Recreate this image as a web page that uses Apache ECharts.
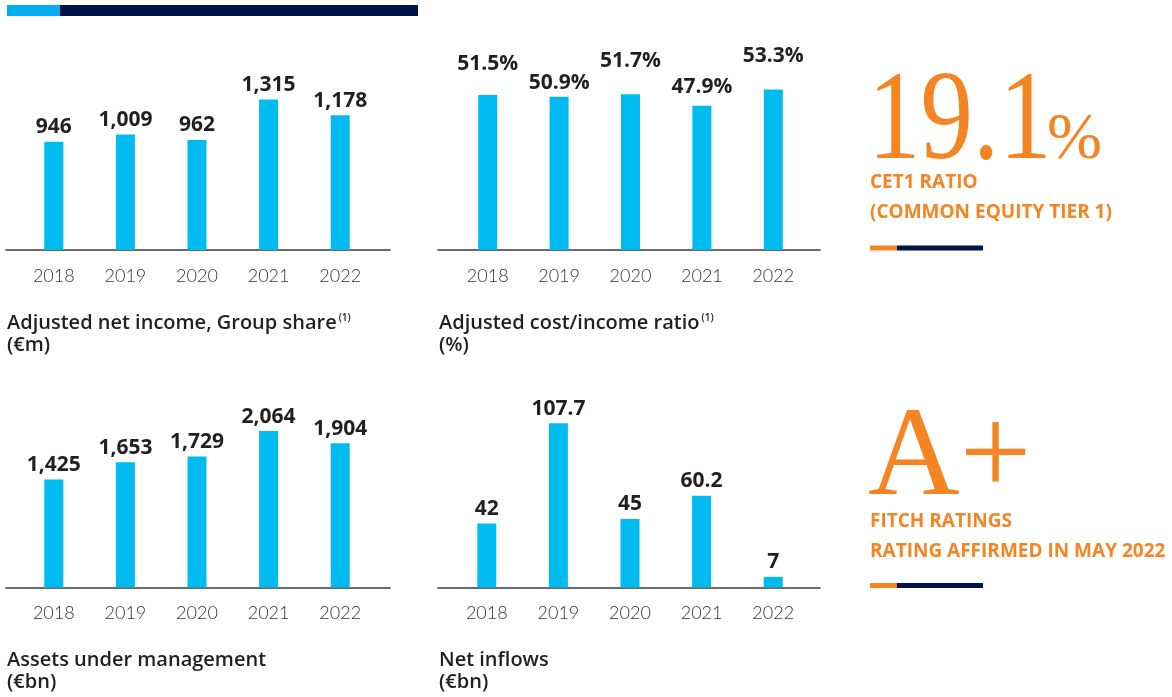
<!DOCTYPE html>
<html>
<head>
<meta charset="utf-8">
<script src="https://cdn.jsdelivr.net/npm/echarts@6/dist/echarts.min.js"></script>
<style>
  html, body { margin: 0; padding: 0; background: #fff; }
  #main { width: 1172px; height: 697px; }
</style>
</head>
<body>
<div id="main"></div>
<script>
// data
var years = ['2018', '2019', '2020', '2021', '2022'];
var netIncome = [946, 1009, 962, 1315, 1178];
var costIncome = [51.5, 50.9, 51.7, 47.9, 53.3];
var aum = [1425, 1653, 1729, 2064, 1904];
var netInflows = [42, 107.7, 45, 60.2, 7];

var BLUE = '#00BBF0';
var NAVY = '#00134A';
var ORANGE = '#F58423';
var INK = '#231F20';
var SANS = '"Open Sans", Roboto, sans-serif';
var SERIF = '"Liberation Serif", "DejaVu Serif", serif';

function thousands(v) { return v.toLocaleString('en-US'); }

// layout of the four small charts
var panels = [
  { data: netIncome, fmt: thousands, max: 1660,
    grid: { left: 18, width: 358, top: 60, height: 190 }, line: { left: 6, width: 384 },
    title: 'Adjusted net income, Group share{sup|(1)}\n(€m)', tx: 7, ty: 312 },
  { data: costIncome, fmt: function (v) { return v.toFixed(1) + '%'; }, max: 63.1,
    gaps: [20, 3.5, 22.5, 8, 23],
    grid: { left: 452, width: 357, top: 60, height: 190 }, line: { left: 438, width: 382 },
    title: 'Adjusted cost/income ratio{sup|(1)}\n(%)', tx: 439, ty: 312 },
  { data: aum, fmt: thousands, max: 2507,
    grid: { left: 18, width: 358, top: 397.5, height: 190 }, line: { left: 6, width: 384 },
    title: 'Assets under management\n(€bn)', tx: 7, ty: 649 },
  { data: netInflows, fmt: function (v) { return String(v); }, max: 124.6,
    grid: { left: 451, width: 358, top: 397.5, height: 190 }, line: { left: 438, width: 382 },
    title: 'Net inflows\n(€bn)', tx: 439, ty: 649 }
];

var grids = [], xAxes = [], yAxes = [], series = [], titles = [];

panels.forEach(function (p, i) {
  // bar grid
  grids.push(p.grid);
  xAxes.push({
    type: 'category', gridIndex: grids.length - 1, data: years,
    axisLine: { show: false }, axisTick: { show: false },
    axisLabel: { color: '#333', fontFamily: 'Lato, ' + SANS, fontWeight: 300, fontSize: 18, margin: 17 }
  });
  yAxes.push({ type: 'value', gridIndex: grids.length - 1, min: 0, max: p.max, show: false });
  series.push({
    type: 'bar', xAxisIndex: xAxes.length - 1, yAxisIndex: yAxes.length - 1,
    barWidth: 19,
    itemStyle: { color: BLUE },
    data: p.data.map(function (v, k) {
      var item = { value: v };
      if (p.gaps) item.label = { distance: p.gaps[k] };
      return item;
    }),
    label: {
      show: true, position: 'top', distance: 4,
      color: INK, fontFamily: SANS, fontWeight: 'bold', fontSize: 21,
      formatter: function (o) { return p.fmt(o.value); }
    },
    silent: true
  });

  // wider grid that only carries the baseline
  grids.push({ left: p.line.left, width: p.line.width, top: p.grid.top, height: p.grid.height });
  xAxes.push({
    type: 'value', gridIndex: grids.length - 1, min: 0, max: 1,
    axisLine: { show: true, lineStyle: { color: '#3a3a3a', width: 1.5 } },
    axisTick: { show: false }, axisLabel: { show: false }, splitLine: { show: false }
  });
  yAxes.push({ type: 'value', gridIndex: grids.length - 1, min: 0, max: 1, show: false });

  titles.push({
    text: p.title, left: p.tx, top: p.ty, padding: 0,
    textStyle: {
      color: INK, fontFamily: SANS, fontWeight: 600, fontSize: 20, lineHeight: 22,
      rich: { sup: { fontFamily: SANS, fontSize: 10, color: INK, padding: [0, 0, 10, 2] } }
    }
  });
});

var graphics = [
  // top strip
  { type: 'rect', shape: { x: 7, y: 5, width: 53, height: 11 }, style: { fill: '#00AEEF' } },
  { type: 'rect', shape: { x: 60, y: 5, width: 358, height: 11 }, style: { fill: NAVY } },

  // CET1 block
  { type: 'text', x: 868, y: 188, scaleX: 0.82, originX: 0, originY: 0,
    style: { text: '19.1', fill: ORANGE, font: '128px ' + SERIF, align: 'left', verticalAlign: 'bottom' } },
  { type: 'text', x: 1047, y: 174,
    style: { text: '%', fill: ORANGE, font: '66px ' + SERIF, align: 'left', verticalAlign: 'bottom' } },
  { type: 'text', x: 870, y: 183,
    style: { text: 'CET1 RATIO', fill: ORANGE, font: 'bold 19px ' + SANS, verticalAlign: 'middle' } },
  { type: 'text', x: 870, y: 213,
    style: { text: '(COMMON EQUITY TIER 1)', fill: ORANGE, font: 'bold 19px ' + SANS, verticalAlign: 'middle' } },
  { type: 'rect', shape: { x: 870, y: 245.5, width: 27, height: 5 }, style: { fill: ORANGE } },
  { type: 'rect', shape: { x: 897, y: 245.5, width: 86, height: 5 }, style: { fill: NAVY } },

  // Fitch block
  { type: 'text', x: 868, y: 524,
    style: { text: 'A+', fill: ORANGE, font: '127px ' + SERIF, align: 'left', verticalAlign: 'bottom' } },
  { type: 'text', x: 870, y: 521.5,
    style: { text: 'FITCH RATINGS', fill: ORANGE, font: 'bold 19px ' + SANS, verticalAlign: 'middle' } },
  { type: 'text', x: 870, y: 551.5,
    style: { text: 'RATING AFFIRMED IN MAY 2022', fill: ORANGE, font: 'bold 19px ' + SANS, verticalAlign: 'middle' } },
  { type: 'rect', shape: { x: 870, y: 583, width: 27, height: 5 }, style: { fill: ORANGE } },
  { type: 'rect', shape: { x: 897, y: 583, width: 86, height: 5 }, style: { fill: NAVY } }
];

var chart = echarts.init(document.getElementById('main'));
chart.setOption({
  animation: false,
  backgroundColor: '#fff',
  title: titles,
  grid: grids,
  xAxis: xAxes,
  yAxis: yAxes,
  series: series,
  graphic: graphics
});
window.onresize = function () { chart.resize(); };
</script>
</body>
</html>
